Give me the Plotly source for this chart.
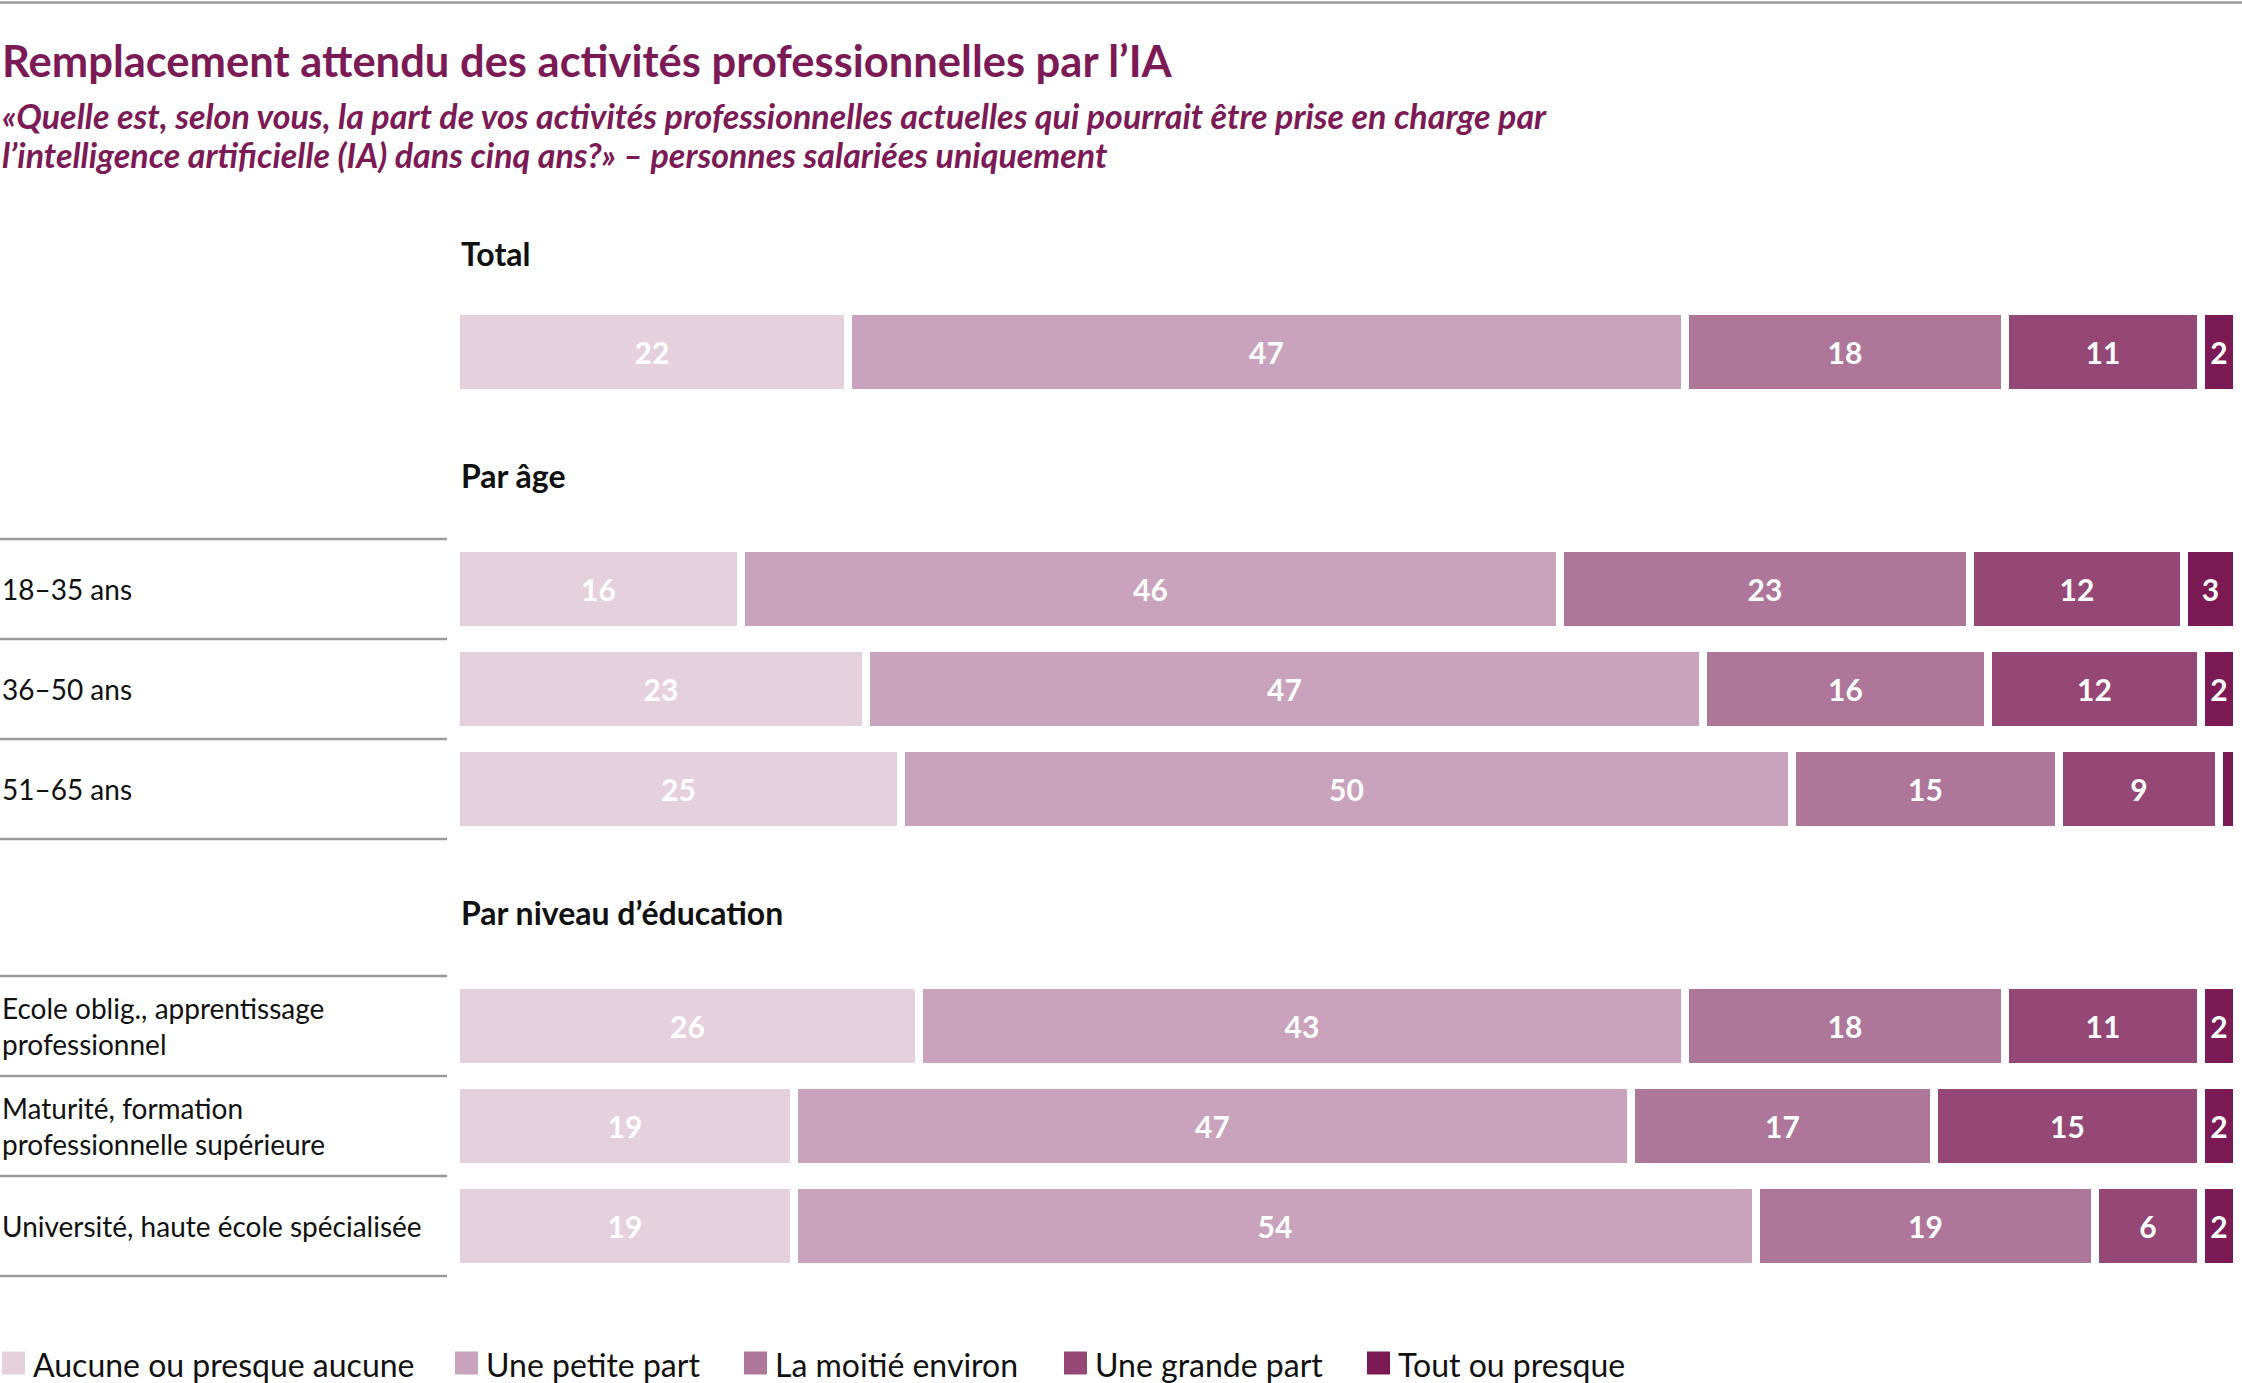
import plotly.graph_objects as go

# ---------------- data ----------------
groups = ["Total", "Par âge", "Par niveau d’éducation"]
row_labels = [
    "",
    "18–35 ans",
    "36–50 ans",
    "51–65 ans",
    "Ecole oblig., apprentissage<br>professionnel",
    "Maturité, formation<br>professionnelle supérieure",
    "Université, haute école spécialisée",
]
row_group = [0, 1, 1, 1, 2, 2, 2]

series_names = [
    "Aucune ou presque aucune",
    "Une petite part",
    "La moitié environ",
    "Une grande part",
    "Tout ou presque",
]
aucune = [22, 16, 23, 25, 26, 19, 19]
petite = [47, 46, 47, 50, 43, 47, 54]
moitie = [18, 23, 16, 15, 18, 17, 19]
grande = [11, 12, 12, 9, 11, 15, 6]
tout = [2, 3, 2, 1, 2, 2, 2]
series_values = [aucune, petite, moitie, grande, tout]

colors = ["#E5D1DD", "#C9A2BC", "#AE7699", "#954876", "#7B1A55"]

# ---------------- layout helpers ----------------
W, H = 2242, 1383
FONT = "Lato"
TITLE_COLOR = "#7B1A55"
GROUP_GAP = 1.37          # extra rows between groups
PX_PER_ROW = 100
Y0_PX = 352               # pixel centre of first row
X0_PX, X100_PX = 456, 2237


def xp(px):
    return px / W


def yp(py):
    return 1 - py / H


pos = [i + g * GROUP_GAP for i, g in enumerate(row_group)]

fig = go.Figure()
for name, vals, col in zip(series_names, series_values, colors):
    fig.add_trace(go.Bar(
        x=vals, y=pos, orientation="h", name=name,
        marker=dict(color=col, line=dict(color="white", width=8)),
        width=0.82,
        text=[str(v) if v >= 2 else "" for v in vals],
        textposition="inside", insidetextanchor="middle",
        textfont=dict(family=FONT, size=30, color="white", weight="bold"),
        showlegend=False, hoverinfo="x+name",
    ))

ppu = (X100_PX - X0_PX) / 100
x_range = [-X0_PX / ppu, (W - X0_PX) / ppu]
y_range = [(H - Y0_PX) / PX_PER_ROW, -Y0_PX / PX_PER_ROW]

annotations = []
shapes = []

# title and subtitle
annotations.append(dict(
    text="Remplacement attendu des activités professionnelles par l’IA",
    x=0, y=yp(60), xref="paper", yref="paper", xanchor="left", yanchor="middle",
    showarrow=False, font=dict(family=FONT, size=43.5, color=TITLE_COLOR, weight="bold")))
annotations.append(dict(
    text="<i>«Quelle est, selon vous, la part de vos activités professionnelles actuelles qui pourrait être prise en charge par</i>",
    x=0, y=yp(115), xref="paper", yref="paper", xanchor="left", yanchor="middle",
    showarrow=False, font=dict(family=FONT, size=34, color=TITLE_COLOR, weight="bold")))
annotations.append(dict(
    text="<i>l’intelligence artificielle (IA) dans cinq ans?» – personnes salariées uniquement</i>",
    x=0, y=yp(155), xref="paper", yref="paper", xanchor="left", yanchor="middle",
    showarrow=False, font=dict(family=FONT, size=34, color=TITLE_COLOR, weight="bold")))

# top rule
shapes.append(dict(type="line", xref="paper", yref="paper", x0=0, x1=1,
                   y0=yp(2.5), y1=yp(2.5), line=dict(color="#9B9B9B", width=2.5)))

# group headers, row labels and separators
for g, gname in enumerate(groups):
    idx = [i for i, rg in enumerate(row_group) if rg == g]
    first = pos[idx[0]]
    has_lines = any(row_labels[i] for i in idx)
    hy = first - (1.135 if has_lines else 0.99)
    annotations.append(dict(
        text=gname, x=xp(459), y=hy, xref="paper", yref="y",
        xanchor="left", yanchor="middle", showarrow=False,
        font=dict(family=FONT, size=32, color="#111111", weight="bold")))
    if has_lines:
        for i in idx:
            shapes.append(dict(type="line", xref="paper", yref="y", x0=0, x1=xp(447),
                               y0=pos[i] - 0.5, y1=pos[i] - 0.5,
                               line=dict(color="#9B9B9B", width=2.5)))
        shapes.append(dict(type="line", xref="paper", yref="y", x0=0, x1=xp(447),
                           y0=pos[idx[-1]] + 0.5, y1=pos[idx[-1]] + 0.5,
                           line=dict(color="#9B9B9B", width=2.5)))
for i, lab in enumerate(row_labels):
    if lab:
        annotations.append(dict(
            text=lab, x=0, y=pos[i], xref="paper", yref="y", xanchor="left",
            yanchor="middle", align="left", showarrow=False,
            font=dict(family=FONT, size=28, color="#111111")))

# custom legend
legend_x_px = [2, 455, 744, 1064, 1367]
LEG_Y = 1363
SQ = 23
for name, col, lx in zip(series_names, colors, legend_x_px):
    shapes.append(dict(type="rect", xref="paper", yref="paper",
                       x0=xp(lx), x1=xp(lx + SQ), y0=yp(LEG_Y - SQ / 2), y1=yp(LEG_Y + SQ / 2),
                       fillcolor=col, line=dict(width=0)))
    annotations.append(dict(
        text=name, x=xp(lx + 29), y=yp(LEG_Y + 1), xref="paper", yref="paper",
        xanchor="left", yanchor="middle", showarrow=False,
        font=dict(family=FONT, size=32, color="#111111")))

fig.update_layout(
    width=W, height=H, margin=dict(l=0, r=0, t=0, b=0),
    paper_bgcolor="white", plot_bgcolor="white",
    barmode="stack", bargap=0,
    uniformtext=dict(mode="show", minsize=30),
    xaxis=dict(range=x_range, visible=False, fixedrange=True),
    yaxis=dict(range=y_range, visible=False, fixedrange=True),
    annotations=annotations, shapes=shapes,
    font=dict(family=FONT),
)

fig.write_html("out.html")
